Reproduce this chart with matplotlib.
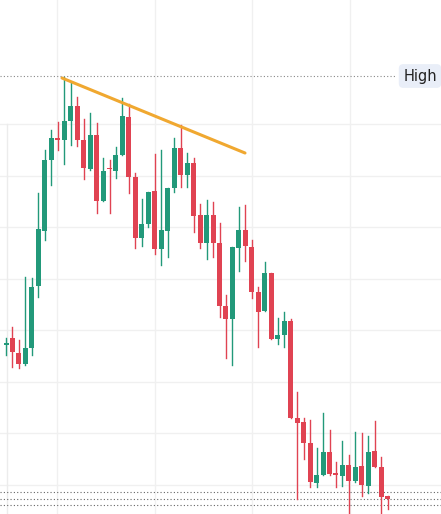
import numpy as np
import matplotlib
matplotlib.use("Agg")
import matplotlib.pyplot as plt

# candle prices (chart units: 514 - pixel row)
opens = [169.0, 175.7, 160.7, 150.0, 165.7, 228.3, 283.3, 354.0, 375.7, 374.0,
         393.3, 408.0, 374.0, 344.7, 379.0, 313.3, 345.7, 343.3, 359.0, 397.3,
         337.3, 275.7, 290.0, 323.0, 264.7, 283.3, 326.3, 365.7, 339.0, 350.7,
         299.0, 270.7, 299.0, 271.3, 208.0, 194.7, 265.7, 284.0, 266.7, 222.3,
         203.3, 241.3, 174.7, 179.0, 193.3, 95.7, 92.3, 71.3, 31.3, 39.0,
         62.3, 40.7, 38.0, 49.0, 33.3, 48.0, 28.0, 63.3, 47.3, 18.0]
closes = [170.7, 162.3, 150.0, 165.7, 227.3, 284.7, 354.0, 375.7, 374.0, 393.0,
          408.0, 374.0, 345.7, 379.0, 313.3, 343.0, 344.7, 359.0, 398.0, 337.3,
          275.7, 290.0, 322.3, 264.7, 284.0, 326.3, 365.7, 339.0, 350.7, 298.0,
          270.7, 299.0, 270.7, 208.0, 194.7, 266.7, 284.0, 268.0, 222.3, 202.3,
          240.7, 174.7, 179.0, 193.3, 95.7, 91.3, 71.3, 32.3, 39.0, 62.3,
          40.0, 39.0, 49.0, 33.3, 47.3, 29.0, 62.3, 46.7, 17.3, 15.0]
highs = [175.7, 187.3, 174.0, 237.3, 235.7, 320.7, 364.0, 384.0, 392.3, 437.3,
         432.3, 417.3, 394.7, 401.3, 391.3, 356.3, 354.0, 366.7, 415.7, 410.0,
         341.3, 314.7, 322.3, 360.0, 364.0, 326.3, 375.7, 389.0, 361.3, 355.7,
         310.0, 314.0, 312.3, 291.3, 219.0, 266.7, 307.3, 309.0, 274.0, 226.7,
         252.3, 241.3, 195.7, 202.3, 194.7, 122.3, 95.7, 94.0, 65.7, 101.3,
         84.0, 52.3, 73.3, 59.0, 82.3, 80.7, 78.0, 93.3, 57.3, 18.0]
lows = [159.0, 147.3, 145.7, 149.0, 159.0, 216.7, 274.0, 329.0, 364.0, 350.0,
        369.0, 368.0, 334.7, 344.0, 301.3, 313.3, 300.7, 335.7, 359.0, 320.7,
        265.7, 268.3, 287.3, 260.0, 249.0, 257.3, 322.3, 327.3, 326.7, 282.3,
        265.7, 254.7, 257.3, 197.3, 155.7, 149.0, 243.3, 253.3, 215.7, 166.7,
        203.3, 174.7, 170.0, 167.3, 95.7, 14.7, 54.7, 27.3, 26.7, 39.0,
        39.0, 27.3, 28.0, 0.7, 32.3, 18.0, 20.7, 46.7, 0.7, 4.7]

trend_x = [62, 245]
trend_y = [436, 361]
high_level = 438
low_levels = [22, 15, 9]

GREEN, RED = "#22997a", "#e04352"

fig = plt.figure(figsize=(4.41, 5.14), dpi=100)
ax = fig.add_axes([0, 0, 1, 1])
ax.set_xlim(0, 441)
ax.set_ylim(0, 514)
ax.axis("off")

for gx in [57, 155, 252, 350]:
    ax.axvline(gx, color="#f0f0f0", lw=1, zorder=0)
for gy in [390, 338, 287, 235, 184]:
    ax.axhline(gy, color="#f0f0f0", lw=1, zorder=0)
for gy in [132, 81, 29]:
    ax.axhline(gy, color="#f0f0f0", lw=1, zorder=0)
ax.plot([7, 7], [0, 390], color="#ececec", lw=1, zorder=0)

for i, (o, h, l, c) in enumerate(zip(opens, highs, lows, closes)):
    x = 6 + 6.47 * i
    col = GREEN if c >= o else RED
    ax.plot([x, x], [l, h], color=col, lw=1, zorder=2)
    ax.bar(x, max(abs(c - o), 1.2), bottom=min(o, c), width=5, color=col, zorder=3)

ax.plot(trend_x, trend_y, color="#f0a830", lw=2.2, solid_capstyle="round", zorder=4)
ax.plot([0, 395], [high_level, high_level], color="#888888", lw=0.8, ls=(0, (1, 2)), zorder=1)
for ly in low_levels:
    ax.plot([0, 441], [ly, ly], color="#666666", lw=0.8, ls=(0, (1, 2)), zorder=1)
ax.text(420, high_level, "High", ha="center", va="center", fontsize=10.5, color="#222222",
        bbox=dict(boxstyle="round,pad=0.3", fc="#e9eef8", ec="none"), zorder=5)

fig.savefig("out.png", dpi=100)
